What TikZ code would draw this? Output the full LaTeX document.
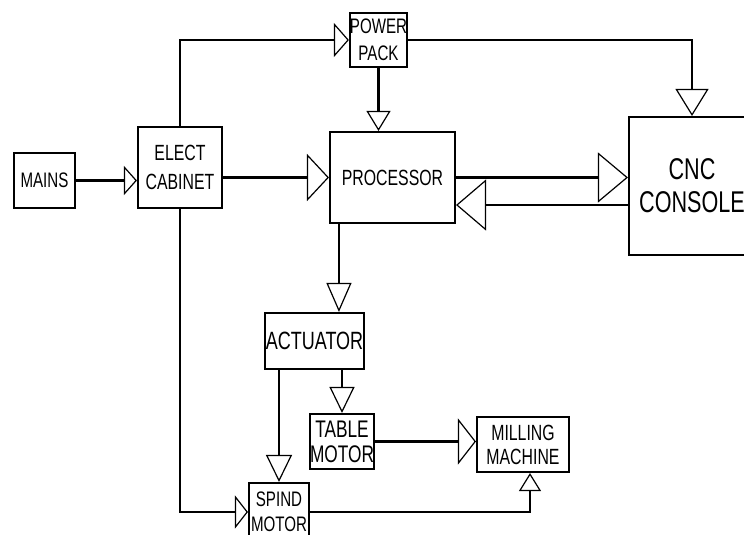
\documentclass[tikz,border=0pt]{standalone}
\usepackage{fontspec}
\newfontfamily\blockfont[FakeStretch=0.72]{Liberation Sans}
\usepackage{tikz}
\usetikzlibrary{arrows.meta,calc}
\newcommand{\bfnt}[2]{\blockfont\fontsize{#1}{#2}\selectfont}
\tikzset{
blk/.style={draw,line width=2.1pt,inner sep=0pt,align=center},
sig/.style 2 args={line width=2.1pt,-{Triangle[open,length=#1pt,width=#2pt,line width=1.2pt]}}
}
\begin{document}
\begin{tikzpicture}[x=1pt,y=-1pt]
\useasboundingbox(0,0)rectangle(744,535);
\clip(0,0)rectangle(744,535);
\node[blk,minimum width=61,minimum height=55,font=\bfnt{21}{25}](mains)at(44.5,180.5){MAINS};
\node[blk,minimum width=84,minimum height=81,font=\bfnt{22}{29}](elect)at(180,167.5){ELECT\\CABINET};
\node[blk,minimum width=57,minimum height=54,font=\bfnt{21}{27}](power)at(378.5,40){POWER\\PACK};
\node[blk,minimum width=125,minimum height=91,font=\bfnt{22}{26}](proc)at(392.5,177.5){PROCESSOR};
\node[blk,minimum width=126,minimum height=138,font=\bfnt{30}{33}](cnc)at(692,186){CNC\\CONSOLE};
\node[blk,minimum width=99,minimum height=56,font=\bfnt{25}{28}](act)at(314.5,341){ACTUATOR};
\node[blk,minimum width=60,minimum height=55,font=\bfnt{24}{25}](table)at(342,441.5){TABLE\\MOTOR};
\node[blk,minimum width=92,minimum height=55,font=\bfnt{22}{24}](mill)at(523,444.5){MILLING\\MACHINE};
\node[blk,minimum width=60,minimum height=58,font=\bfnt{21}{25}](spind)at(279,512){SPIND\\MOTOR};
\coordinate(ret)at($(proc.east)+(0,27.5)$);
\coordinate(drop)at($(proc.south west)+(10,0)$);
\coordinate(up)at($(mill.south)+(7,0)$);
\draw[sig={13}{29}](mains.east)--(mains.east-|elect.west);
\draw[sig={15}{34}](elect.north)|-(power.west);
\draw[sig={22}{47}](proc.west-|elect.east)--(proc.west);
\draw[sig={20}{24}](power.south)--(power.south|-proc.north);
\draw[sig={27}{33}](power.east)-|(cnc.north);
\draw[sig={30}{50}](proc.east)--(proc.east-|cnc.west);
\draw[sig={30}{51}](ret-|cnc.west)--(ret);
\draw[sig={29}{25}](drop)--(drop|-act.north);
\draw[sig={26}{25}](table.north|-act.south)--(table.north);
\draw[sig={27}{26}](spind.north|-act.south)--(spind.north);
\draw[sig={13}{33}](elect.south)|-(spind.west);
\draw[sig={18}{46}](table.east)--(table.east-|mill.west);
\draw[sig={18}{22}](spind.east)-|(up);
\end{tikzpicture}
\end{document}
